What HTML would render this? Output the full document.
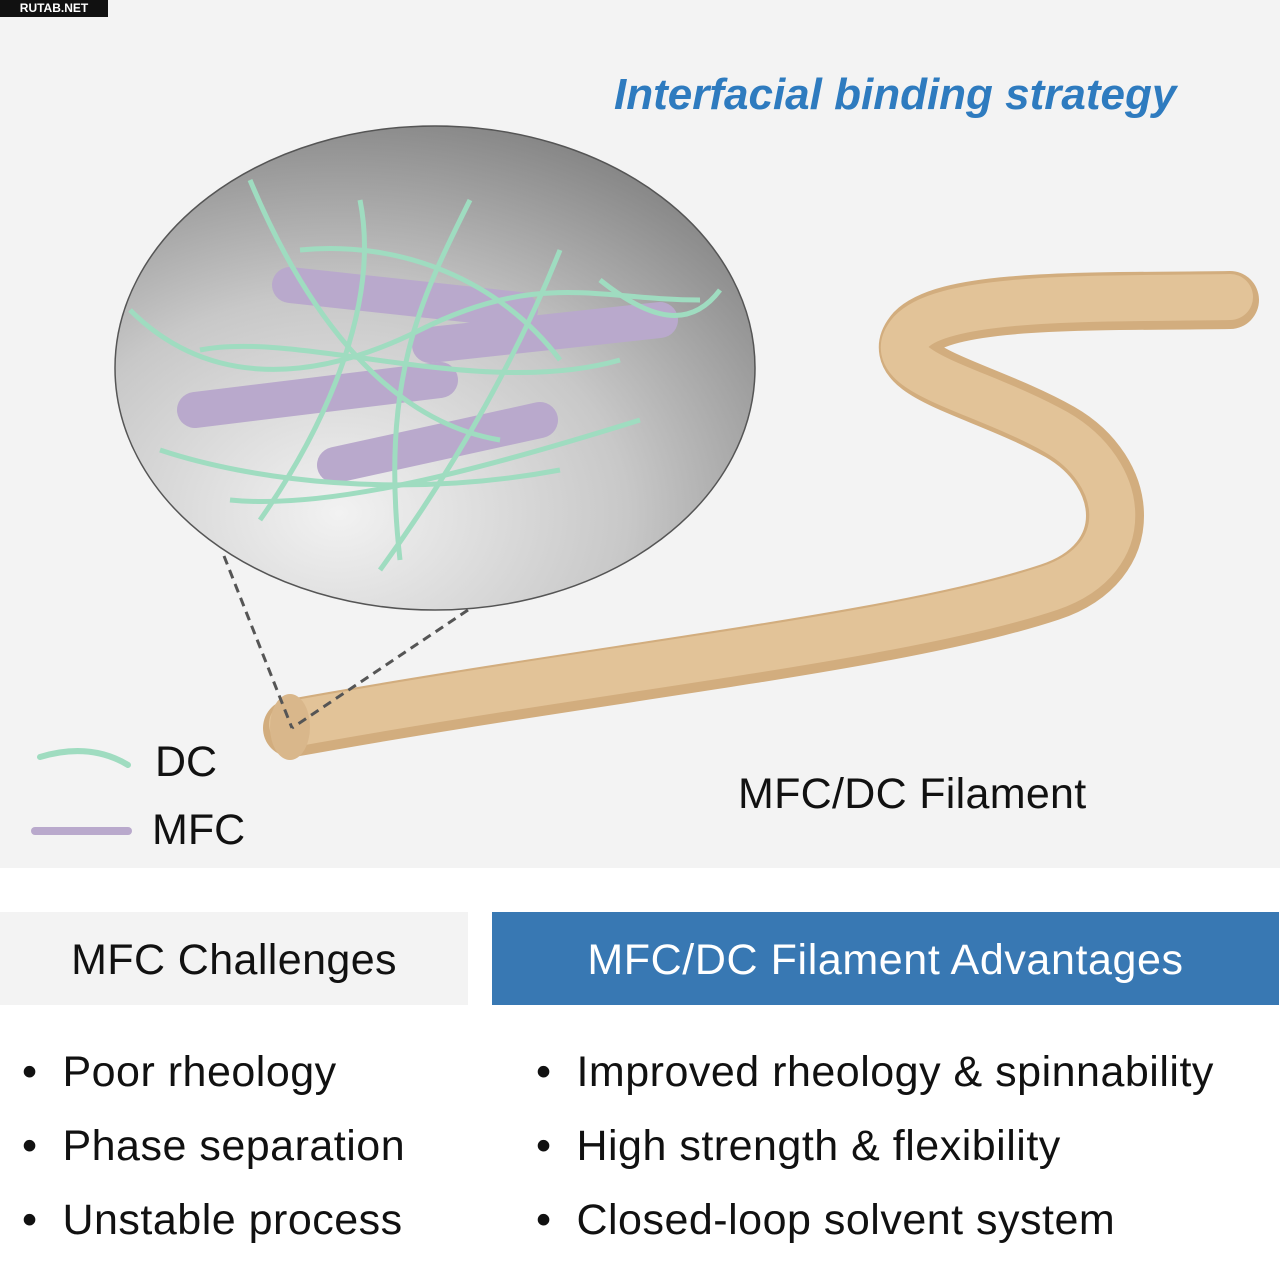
<!DOCTYPE html>
<html><head><meta charset="utf-8"><style>
body{margin:0;width:1280px;height:1280px;background:#fff;font-family:"Liberation Sans",Arial,sans-serif;position:relative;overflow:hidden}
.t{position:absolute;white-space:nowrap;color:#111}
</style></head><body>
<div style="position:absolute;left:0;top:0;width:1280px;height:868px;background:#f3f3f3"></div>
<div style="position:absolute;left:0;top:0;width:108px;height:17px;background:#111;color:#fff;font-size:12px;font-weight:bold;line-height:17px;text-align:center">RUTAB.NET</div>
<svg width="1280" height="868" style="position:absolute;left:0;top:0">
<defs>
<radialGradient id="g" cx="0.35" cy="0.8" r="0.9">
<stop offset="0" stop-color="#f2f2f2"/><stop offset="0.5" stop-color="#c8c8c8"/><stop offset="1" stop-color="#7c7c7c"/></radialGradient>
</defs>
<path d="M292 728 C600 672 900 642 1050 592 C1140 562 1130 472 1060 432 C980 387 880 372 915 332 C950 297 1100 302 1230 300" fill="none" stroke="#d2ad7e" stroke-width="58" stroke-linecap="round"/>
<path d="M292 724 C600 668 900 638 1050 588 C1138 558 1126 472 1056 432 C976 387 876 372 911 332 C946 295 1100 299 1230 297" fill="none" stroke="#e2c398" stroke-width="46" stroke-linecap="round"/>
<ellipse cx="290" cy="727" rx="20" ry="33" fill="#d9b78b"/>
<ellipse cx="435" cy="368" rx="320" ry="242" fill="url(#g)" stroke="#555" stroke-width="1.5"/>
<line x1="224" y1="556" x2="292" y2="728" stroke="#555" stroke-width="3" stroke-dasharray="9,6"/>
<line x1="468" y1="610" x2="292" y2="728" stroke="#555" stroke-width="3" stroke-dasharray="9,6"/>
<g stroke="#b9a9cc" stroke-width="36" stroke-linecap="round">
<line x1="290" y1="285" x2="520" y2="310"/>
<line x1="430" y1="345" x2="660" y2="320"/>
<line x1="195" y1="410" x2="440" y2="380"/>
<line x1="335" y1="465" x2="540" y2="420"/>
</g>
<g fill="none" stroke="#9fdcc0" stroke-width="5">
<path d="M130 310 C200 380 300 390 420 330 S600 300 700 300"/>
<path d="M250 180 C300 300 380 420 500 440"/>
<path d="M160 450 C250 480 400 500 560 470"/>
<path d="M360 200 C380 300 330 420 260 520"/>
<path d="M470 200 C420 300 380 380 400 560"/>
<path d="M200 350 C300 330 480 400 620 360"/>
<path d="M560 250 C520 350 460 460 380 570"/>
<path d="M230 500 C330 510 480 470 640 420"/>
<path d="M600 280 C650 320 690 330 720 290"/>
<path d="M300 250 C400 240 500 280 560 360"/>
</g>
<path d="M40 757 C70 748 100 748 128 765" fill="none" stroke="#9fdcc0" stroke-width="6" stroke-linecap="round"/>
<line x1="35" y1="831" x2="128" y2="831" stroke="#b9a9cc" stroke-width="8" stroke-linecap="round"/>
</svg>
<div class="t" style="left:614px;top:70px;font-size:44px;font-weight:bold;font-style:italic;color:#2e7bbf">Interfacial binding strategy</div>
<div class="t" style="left:155px;top:738px;font-size:43px">DC</div>
<div class="t" style="left:152px;top:806px;font-size:43px">MFC</div>
<div class="t" style="left:738px;top:770px;font-size:43px;letter-spacing:0.3px">MFC/DC Filament</div>
<div style="position:absolute;left:0;top:912px;width:468px;height:93px;background:#f3f3f3;font-size:43px;line-height:97px;text-align:center;color:#111;letter-spacing:0.4px">MFC Challenges</div>
<div style="position:absolute;left:492px;top:912px;width:787px;height:93px;background:#3878b3;font-size:43px;line-height:97px;text-align:center;color:#fff;letter-spacing:0.6px">MFC/DC Filament Advantages</div>
<div class="t" style="left:22px;top:1046px;font-size:43px;line-height:52px;letter-spacing:0.5px">• &nbsp;Poor rheology<br><span style="display:block;height:22px"></span>• &nbsp;Phase separation<br><span style="display:block;height:22px"></span>• &nbsp;Unstable process</div>
<div class="t" style="left:536px;top:1046px;font-size:43px;line-height:52px;letter-spacing:0.5px">• &nbsp;Improved rheology &amp; spinnability<br><span style="display:block;height:22px"></span>• &nbsp;High strength &amp; flexibility<br><span style="display:block;height:22px"></span>• &nbsp;Closed-loop solvent system</div>
</body></html>
